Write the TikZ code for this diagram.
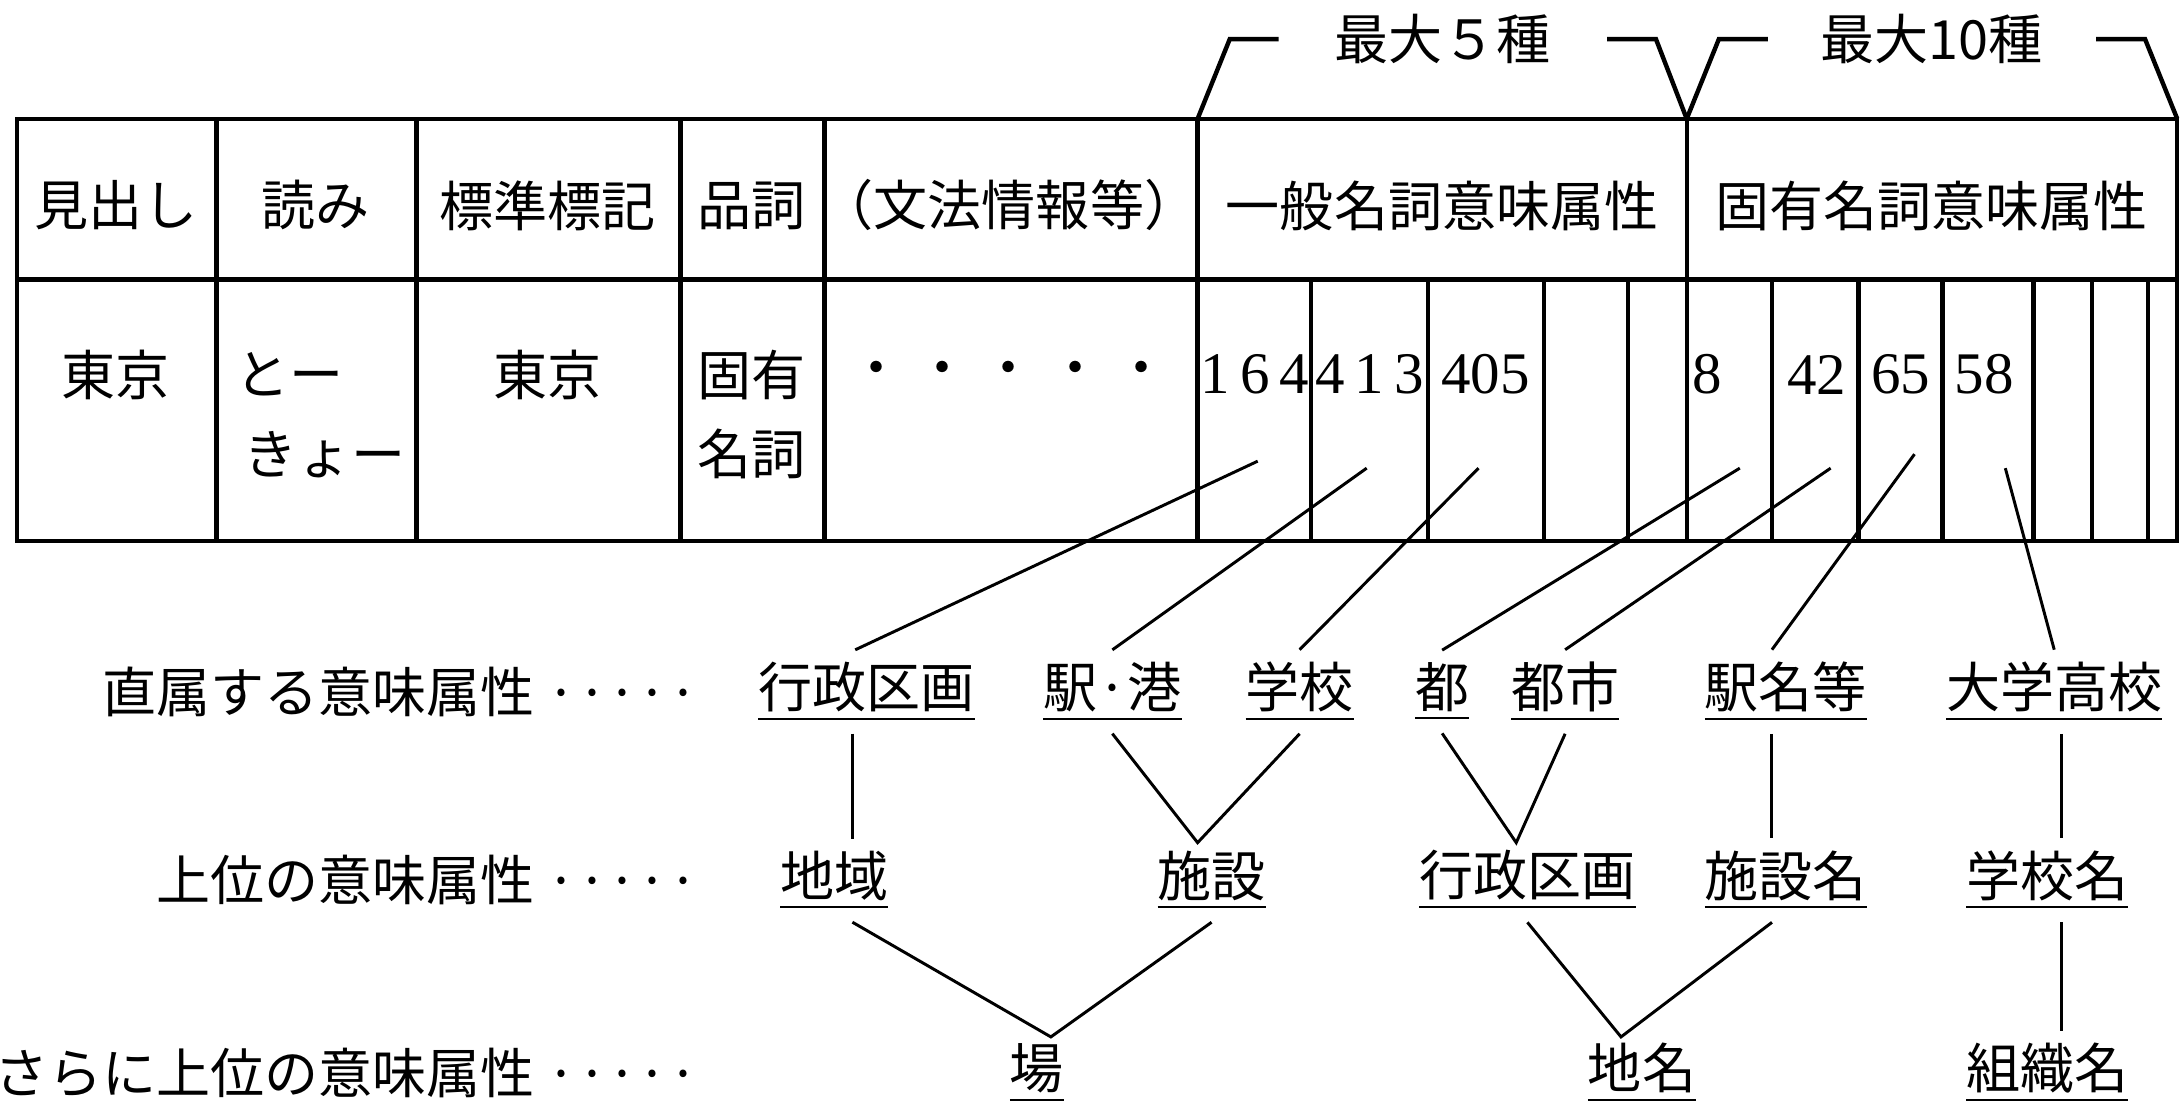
\documentclass[tikz,border=0pt]{standalone}
\usepackage{fontspec}
\setmainfont{Liberation Serif}
\newfontfamily\jp{Noto Sans CJK JP}
\begin{document}
\begin{tikzpicture}[x=0.01cm,y=-0.01cm,line width=0.9pt,
  t/.style={font=\jp\fontsize{11}{13}\selectfont,inner sep=1pt},
  num/.style={font=\fontsize{12}{14}\selectfont,inner sep=1pt},
  u/.style={t,inner sep=2pt},
  lk/.style={line width=0.6pt}]
\useasboundingbox (0,0) rectangle (1560,796);
% table
\draw (12,85) rectangle (1558,387);
\draw (12,200) -- (1558,200);
\foreach \x in {155,298,487,590,857,1207} \draw (\x,85) -- (\x,387);
\foreach \x in {938,1022,1105,1165,1268,1330,1390,1455,1497,1537} \draw (\x,200) -- (\x,387);
% brackets
\draw (857,85) -- (880,28) -- (915,28);
\draw (1150,28) -- (1185,28) -- (1207,85);
\draw (1207,85) -- (1230,28) -- (1265,28);
\draw (1500,28) -- (1535,28) -- (1558,85);
\node[t] (b1) at (1032,28) {最大５種};
\node[t] (b2) at (1382,28) {最大10種};
% header
\node[t] (h1) at (83,147) {見出し};
\node[t] (h2) at (226,147) {読み};
\node[t] (h3) at (392,147) {標準標記};
\node[t] (h4) at (538,147) {品詞};
\node[t] (h5) at (722,147) {（文法情報等）};
\node[t] (h6) at (1032,147) {一般名詞意味属性};
\node[t] (h7) at (1382,147) {固有名詞意味属性};
% data
\node[t] (d1) at (83,268) {東京};
\node[t] (d2a) at (207,268) {とー};
\node[t] (d2b) at (232,325) {きょー};
\node[t] (d3) at (392,268) {東京};
\node[t] (d4a) at (538,268) {固有};
\node[t] (d4b) at (538,325) {名詞};
\node[t] (d5) at (722,268) {・ ・ ・ ・ ・};
\node[num] (n1) at (898,268) {1\,6\,4};
\node[num] (n2) at (980,268) {4\,1\,3};
\node[num] (n3) at (1063,268) {405};
\node[num] (n4) at (1222,268) {8};
\node[num] (n5) at (1300,268) {42};
\node[num] (n6) at (1360,268) {65};
\node[num] (n7) at (1420,268) {58};
\coordinate (m1) at (900,330); \coordinate (m2) at (978,335);
\coordinate (m3) at (1058,335); \coordinate (m4) at (1245,335);
\coordinate (m5) at (1310,335); \coordinate (m6) at (1370,325);
\coordinate (m7) at (1435,335);
% row labels
\node[t,anchor=east] (r1) at (505,495) {直属する意味属性 ·····};
\node[t,anchor=east] (r2) at (505,630) {上位の意味属性 ·····};
\node[t,anchor=east] (r3) at (505,768) {さらに上位の意味属性 ·····};
% level 1
\node[u] (a1) at (620,495) {\underline{行政区画}};
\node[u] (a2) at (796,495) {\underline{駅·港}};
\node[u] (a3) at (930,495) {\underline{学校}};
\node[u] (a4) at (1032,495) {\underline{都}};
\node[u] (a5) at (1120,495) {\underline{都市}};
\node[u] (a6) at (1278,495) {\underline{駅名等}};
\node[u] (a7) at (1470,495) {\underline{大学高校}};
% level 2
\node[u] (c1) at (597,630) {\underline{地域}};
\node[u] (c2) at (867,630) {\underline{施設}};
\node[u] (c3) at (1093,630) {\underline{行政区画}};
\node[u] (c4) at (1278,630) {\underline{施設名}};
\node[u] (c5) at (1465,630) {\underline{学校名}};
% level 3
\node[u] (e1) at (742,768) {\underline{場}};
\node[u] (e2) at (1175,768) {\underline{地名}};
\node[u] (e3) at (1465,768) {\underline{組織名}};
% number links
\draw[lk] (m1) -- (a1.north-|612,0);
\draw[lk] (m2) -- (a2.north);
\draw[lk] (m3) -- (a3.north);
\draw[lk] (m4) -- (a4.north);
\draw[lk] (m5) -- (a5.north);
\draw[lk] (m6) -- (a6.north-|1268,0);
\draw[lk] (m7) -- (a7.north);
% tree links
\coordinate (p1) at (857,603); \coordinate (p2) at (1085,603);
\coordinate (q1) at (752,742); \coordinate (q2) at (1160,742);
\draw[lk] (a1.south-|610,0) -- (c1.north-|610,0);
\draw[lk] (a2.south) -- (p1) -- (a3.south);
\draw[lk] (a4.south) -- (p2) -- (a5.south);
\draw[lk] (a6.south-|1268,0) -- (c4.north-|1268,0);
\draw[lk] (a7.south-|1475,0) -- (c5.north-|1475,0);
\draw[lk] (c1.south-|610,0) -- (q1) -- (c2.south);
\draw[lk] (c3.south) -- (q2) -- (c4.south-|1268,0);
\draw[lk] (c5.south-|1475,0) -- (e3.north-|1475,0);
\end{tikzpicture}
\end{document}
